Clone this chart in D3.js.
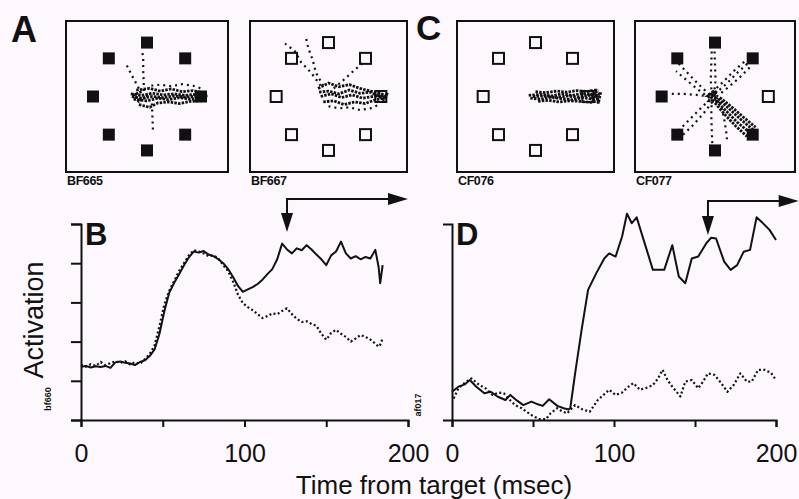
<!DOCTYPE html>
<html><head><meta charset="utf-8">
<script src="https://cdn.jsdelivr.net/npm/d3@7"></script>
<style>
html,body{margin:0;padding:0;background:#fdf8fd;}
svg{display:block;}
text{font-family:"Liberation Sans",Arial,Helvetica,sans-serif;fill:#111;}
</style></head><body>
<svg id="chart" width="799" height="499"></svg>
<script>
// ---------- DATA ----------
const timeTicks = [0, 50, 100, 150, 200];
const timeLabels = [0, 100, 200];
const activationTicks = [0, 1, 2, 3, 4, 5];

// Panel B (cell bf660)
const bTime = [0,3,6,9,12,15,18,21,24,27,30,33,36,39,42,45,48,51,54,57,60,63,66,69,72,75,78,81,84,87,90,93,96,99,102,105,108,111,114,117,120,123,126,129,132,135,138,141,144,147,150,153,156,159,162,165,168,171,174,177,180,182,183,184.5];
const bSolid = [1.36,1.38,1.34,1.37,1.35,1.38,1.33,1.47,1.49,1.46,
  1.44,1.40,1.48,1.52,1.63,1.80,2.20,2.78,3.25,3.50,
  3.72,3.95,4.15,4.30,4.27,4.31,4.22,4.18,4.10,4.00,
  3.85,3.65,3.42,3.27,3.33,3.39,3.47,3.58,3.72,3.85,
  4.10,4.50,4.35,4.25,4.38,4.33,4.46,4.35,4.22,4.10,
  3.95,4.20,4.30,4.55,4.25,4.12,4.18,4.10,4.16,4.12,
  4.34,3.91,3.49,3.95];
const bDotted = [1.40,1.36,1.42,1.38,1.48,1.40,1.45,1.50,1.46,1.50,
  1.42,1.47,1.43,1.55,1.68,1.90,2.40,2.95,3.30,3.55,
  3.80,4.00,4.20,4.33,4.30,4.25,4.18,4.20,4.12,3.95,
  3.80,3.53,3.20,2.98,2.88,2.80,2.70,2.60,2.65,2.72,
  2.70,2.78,2.85,2.70,2.58,2.50,2.52,2.45,2.40,2.20,
  2.05,2.22,2.30,2.20,2.12,2.00,2.08,2.17,2.12,2.05,
  1.95,1.87,1.92,2.08];

// Panel D (cell af017)
const dSolidTime = [0,4,8,11,15,20,24,28,33,36,40,44,49,53,56,60,65,69,72,73,76,80,84,89,94,97,101,105,108,111,114,119,124,131,136,140,144,148,152,157,160,163,168,172,176,180,184,188,191,196,200];
const dSolid = [0.72,0.85,0.91,1.02,0.85,0.68,0.72,0.60,0.51,0.64,
  0.50,0.38,0.47,0.40,0.36,0.53,0.36,0.30,0.27,0.30,
  1.19,2.30,3.32,3.74,4.12,4.25,4.17,4.68,5.26,5.02,
  5.17,4.50,3.83,3.83,4.46,3.66,3.49,4.12,4.17,4.51,
  4.65,4.63,4.04,3.83,3.95,4.29,4.34,5.17,5.06,4.85,4.59];
const dDottedTime = [1,4,8,12,17,21,25,29,32,36,39,43,46,50,54,58,61,65,68,71,76,80,85,90,93,97,101,105,109,112,116,120,124,127,130,133,136,141,144,148,152,155,158,162,166,170,174,178,182,185,189,193,197,200];
const dDotted = [0.55,0.81,0.95,1.06,0.89,0.80,0.64,0.70,0.68,0.50,
  0.38,0.30,0.21,0.10,0.02,0.02,0.18,0.30,0.22,0.17,
  0.38,0.28,0.21,0.51,0.62,0.77,0.64,0.70,0.85,0.94,
  0.77,0.82,0.89,1.05,1.28,1.02,0.85,0.60,0.98,1.02,
  0.81,0.98,1.19,1.15,0.95,0.72,0.90,1.19,0.98,0.98,
  1.28,1.28,1.20,1.02];

// movement onset arrows (time, ms)
const arrowB = [126, 200];
const arrowD = [158, 214];

// Workspace panels (target ring, deg)
const cellNames = ["BF665", "BF667", "CF076", "CF077"];
const targetAngles = [0, 45, 90, 135, 180, 225, 270, 315];
const targetEccentricity = 10;
const filledBF665 = [1,1,1,1,1,1,1,1];
const filledBF667 = [0,0,0,0,0,0,0,0];
const filledCF076 = [0,0,0,0,0,0,0,0];
const filledCF077 = [0,1,1,1,1,1,1,1];

// eye/hand traces (deg)
const denseBF665 = [
  [[-3,0.5],[-1,0.2],[1,0.6],[3,0.3],[5,0.5],[7,0.2],[9,0.4],[11,0.3]],
  [[-2.5,-0.5],[0,-0.8],[2,-0.3],[4,-0.6],[6,-0.2],[8,-0.5],[10.5,-0.3]],
  [[-2,1.2],[0.5,1.5],[2.5,1.0],[4.5,1.4],[6.5,0.9],[8.5,1.1],[10.8,0.6]],
  [[-1.5,-1.5],[0.5,-2.0],[2,-1.2],[4,-1.0],[6,-1.3],[8,-0.9],[10,-0.8],[11,-0.2]],
  [[-2.8,0],[-1,-0.3],[1,0.0],[3,-0.2],[5,0.1],[7,-0.1],[9,0.0],[11.2,0.1]],
  [[-1,0.9],[-2.5,0.3],[-1.5,-0.9],[0.5,0.4]]
];
const sparseBF665 = [
  [[0.8,2.0],[2.5,2.2],[4.5,1.9],[6.5,2.3],[8.5,2.0],[10,1.5]],
  [[-0.6,1.0],[-0.6,2.6],[-0.7,4.8],[-0.7,7.0],[-0.9,8.5]],
  [[-1.5,1.5],[-2.8,3.9],[-3.9,6.1]],
  [[0.9,-1.3],[1.0,-3.5],[1.1,-6.3]]
];
const denseBF667 = [
  [[-2,1.5],[0,2.5],[2,1.8],[4,2.2],[6,1.5],[8,1.0],[10,0.5],[11,0.2]],
  [[-1.5,0],[0.5,0.5],[2.5,-0.2],[4.5,0.3],[6.5,-0.3],[8.5,0],[10.5,0.2]],
  [[-1,-1],[1,-0.8],[3,-1.5],[5,-1.0],[7,-1.3],[9,-0.6],[11,-0.3]],
  [[-1.8,0.8],[0,1],[2,0.5],[4,1.2],[6,0.6],[8,0.8],[10,-0.2],[11.2,0]],
  [[9.5,0.8],[10.5,-0.6],[11.3,0.7],[10.8,-0.2]]
];
const sparseBF667 = [
  [[0,-1.8],[2,-2.2],[4,-2.0],[6,-2.5],[8,-2.2],[9.5,-1.6]],
  [[1,1.5],[2.8,3.0],[4.5,4.5],[5.8,5.6],[7,6.6]],
  [[-1.5,2.0],[-3.3,4.4],[-5.2,6.3],[-6.5,8.5],[-8.3,9.8]],
  [[-1,2],[-2.4,4.4],[-3,6.7],[-3.9,9.1],[-4.3,10.9]]
];
const denseCF076 = [
  [[-1.3,0.2],[1,0.4],[3,0.1],[5,0.5],[7,0.2],[9,0.6],[11,0.2],[12.2,0.5]],
  [[-1,-0.3],[1,-0.5],[3,-0.1],[5,-0.4],[7,-0.6],[9,-0.2],[11,-0.5],[12,-0.2]],
  [[0,0.9],[2,0.7],[4,1.0],[6,0.8],[8,1.1],[10,0.9],[12,1.2]],
  [[0.5,-0.9],[2.5,-0.7],[4.5,-1.0],[6.5,-0.8],[8.5,-0.9],[10.5,-1.1],[12,-0.8]],
  [[-0.5,0],[2,0.1],[4,-0.2],[6,0.1],[8,-0.1],[10,0.2],[12.3,0]],
  [[10.5,1.3],[11,-1.2],[11.5,1.4],[12,-1.3],[12.5,1.0]]
];
const sparseCF076 = [];
const denseCF077 = [
  [[0.2,-0.8],[2.2,-2.8],[4.2,-4.8],[6.4,-6.6]],
  [[0.6,-0.4],[2.8,-2.4],[5.0,-4.4],[7.2,-6.2]],
  [[0,-1.2],[1.9,-3.4],[3.9,-5.5],[6.0,-7.4]],
  [[0.9,-0.2],[3.2,-2.0],[5.4,-3.9],[7.6,-5.7]],
  [[-1.2,0.6],[0.4,-0.9],[-1.1,-0.8],[0.3,1.0],[-1.3,0.1],[0.2,-0.2],[-0.6,1.2]]
];
const sparseCF077 = [
  [[-0.6,0.2],[-0.8,3],[-0.7,6],[-0.6,8.8]],
  [[-0.2,0.2],[0.1,3],[0.0,6],[-0.1,8.8]],
  [[-0.6,-0.5],[-0.7,-3.5],[-0.6,-6.5],[-0.5,-8.8]],
  [[1.0,-1.0],[1.7,-4],[2.1,-6.5],[2.3,-8.5]],
  [[0,0.5],[2.2,2.4],[4.2,4.4],[6.3,6.3]],
  [[0.3,0],[2.6,1.8],[4.7,3.6],[6.6,5.5]],
  [[-0.5,0.8],[1.6,2.8],[3.6,4.8],[5.8,6.7]],
  [[-1,0.3],[-3,2.2],[-5,4.2],[-6.8,6.1]],
  [[-1,-0.3],[-3.2,1.3],[-5.3,3],[-7.3,4.7]],
  [[-1,0],[-3.5,0.3],[-6.2,0.5],[-8.8,0.5]],
  [[-1,-0.6],[-3,-2.5],[-5,-4.5],[-6.8,-6.3]],
  [[-0.5,-1],[-2.2,-3.2],[-4.1,-5.3],[-6.0,-7.1]]
];

const filledSets = [filledBF665, filledBF667, filledCF076, filledCF077];
const denseSets = [denseBF665, denseBF667, denseCF076, denseCF077];
const sparseSets = [sparseBF665, sparseBF667, sparseCF076, sparseCF077];

// ---------- DRAW ----------
const svg = d3.select("#chart");
const ink = "#111";
const bg = "#fdf8fd";
svg.append("rect").attr("width", 799).attr("height", 499).attr("fill", bg);

// workspace boxes
const boxes = [{l:66, r:228}, {l:250, r:407}, {l:457, r:614}, {l:635, r:795}];
const boxTop = 21, boxBottom = 172;

boxes.forEach((b, i) => {
  const g = svg.append("g");
  const sx = d3.scaleLinear([-15, 15], [b.l, b.r]);
  const sy = d3.scaleLinear([-14, 14], [boxBottom, boxTop]);
  g.append("rect").attr("x", b.l).attr("y", boxTop)
    .attr("width", b.r - b.l).attr("height", boxBottom - boxTop)
    .attr("fill", bg).attr("stroke", ink).attr("stroke-width", 2);

  const targets = targetAngles.map((a, k) => ({
    x: targetEccentricity * Math.cos(a * Math.PI / 180),
    y: targetEccentricity * Math.sin(a * Math.PI / 180),
    filled: filledSets[i][k]
  }));
  const line = d3.line().x(d => sx(d[0])).y(d => sy(d[1]));

  g.selectAll("rect.t").data(targets).join("rect").attr("class", "t")
    .attr("x", d => sx(d.x) - (d.filled ? 6 : 5.5))
    .attr("y", d => sy(d.y) - (d.filled ? 6 : 5.5))
    .attr("width", d => d.filled ? 12 : 11)
    .attr("height", d => d.filled ? 12 : 11)
    .attr("fill", d => d.filled ? ink : bg)
    .attr("stroke", ink).attr("stroke-width", d => d.filled ? 0 : 2);

  g.selectAll("path.dense").data(denseSets[i]).join("path").attr("class", "dense")
    .attr("d", line).attr("fill", "none").attr("stroke", ink)
    .attr("stroke-width", 2.8).attr("stroke-dasharray", "2.5,1.2");
  g.selectAll("path.sparse").data(sparseSets[i]).join("path").attr("class", "sparse")
    .attr("d", line).attr("fill", "none").attr("stroke", ink)
    .attr("stroke-width", 2.2).attr("stroke-dasharray", "2,4");

  g.append("text").attr("x", b.l + 1).attr("y", 185)
    .attr("font-size", 12.5).attr("font-weight", "bold")
    .attr("letter-spacing", -0.4).text(cellNames[i]);
});

// panel letters
const letters = [
  {t:"A", x:11, y:42, s:36},
  {t:"C", x:416, y:40, s:35},
  {t:"B", x:85, y:245, s:31},
  {t:"D", x:456, y:245, s:31}
];
svg.selectAll("text.letter").data(letters).join("text").attr("class", "letter")
  .attr("x", d => d.x).attr("y", d => d.y).attr("font-size", d => d.s)
  .attr("font-weight", "bold").text(d => d.t);

// activation panels
const y = d3.scaleLinear([0, 5], [420, 224]);
const xB = d3.scaleLinear([0, 200], [81, 408]);
const xD = d3.scaleLinear([0, 200], [452, 776]);

function styleAxis(g) {
  g.attr("color", ink);
  g.selectAll("path, line").attr("stroke-width", 2);
  g.selectAll("text").attr("font-size", 25)
    .attr("font-family", '"Liberation Sans",Arial,Helvetica,sans-serif').attr("fill", ink);
}

// Panel B axes
svg.append("g").attr("transform", "translate(81,0)")
  .call(d3.axisLeft(y).tickValues(activationTicks).tickSize(10).tickSizeOuter(10).tickFormat(""))
  .call(styleAxis);
svg.append("g").attr("transform", "translate(0,420)")
  .call(d3.axisBottom(xB).tickValues(timeTicks).tickSize(7).tickSizeOuter(7).tickPadding(17)
    .tickFormat(d => timeLabels.includes(d) ? d : ""))
  .call(styleAxis);

// Panel D axes
svg.append("g").attr("transform", "translate(452,0)")
  .call(d3.axisLeft(y).tickValues([]).tickSizeOuter(9))
  .call(styleAxis);
svg.append("g").attr("transform", "translate(0,420)")
  .call(d3.axisBottom(xD).tickValues(timeTicks).tickSize(7).tickSizeOuter(7).tickPadding(17)
    .tickFormat(d => timeLabels.includes(d) ? d : ""))
  .call(styleAxis);

// lines
function drawLine(xs, times, vals, dashed) {
  const pts = times.map((t, k) => [t, vals[k]]);
  svg.append("path").datum(pts)
    .attr("d", d3.line().x(d => xs(d[0])).y(d => y(d[1])))
    .attr("fill", "none").attr("stroke", ink)
    .attr("stroke-width", dashed ? 2.2 : 2)
    .attr("stroke-linejoin", "round")
    .attr("stroke-dasharray", dashed ? "2,2.4" : null);
}
drawLine(xB, bTime, bDotted, true);
drawLine(xB, bTime, bSolid, false);
drawLine(xD, dDottedTime, dDotted, true);
drawLine(xD, dSolidTime, dSolid, false);

// arrows
function drawArrow(xs, a, yTop, yTip) {
  const x0 = xs(a[0]), x1 = xs(a[1]);
  const g = svg.append("g").attr("fill", ink).attr("stroke", ink);
  g.append("path").attr("d", `M${x0},${yTip - 16}V${yTop}H${x1 - 18}`)
    .attr("fill", "none").attr("stroke-width", 2);
  g.append("path").attr("d", `M${x0 - 6},${yTip - 19}L${x0 + 6},${yTip - 19}L${x0},${yTip}Z`).attr("stroke", "none");
  g.append("path").attr("d", `M${x1 - 20},${yTop - 6}L${x1 - 20},${yTop + 6}L${x1},${yTop}Z`).attr("stroke", "none");
}
drawArrow(xB, arrowB, 199, 232);
drawArrow(xD, arrowD, 201, 235);

// axis titles and cell ids
svg.append("text").attr("transform", "translate(43,320) rotate(-90)")
  .attr("text-anchor", "middle").attr("font-size", 27).text("Activation");
svg.append("text").attr("x", 434).attr("y", 494)
  .attr("text-anchor", "middle").attr("font-size", 26).text("Time from target (msec)");
svg.append("text").attr("transform", "translate(51,399) rotate(-90)")
  .attr("text-anchor", "middle").attr("font-size", 9).attr("font-weight", "bold").text("bf660");
svg.append("text").attr("transform", "translate(421,405) rotate(-90)")
  .attr("text-anchor", "middle").attr("font-size", 9).attr("font-weight", "bold").text("af017");
</script>
</body></html>
